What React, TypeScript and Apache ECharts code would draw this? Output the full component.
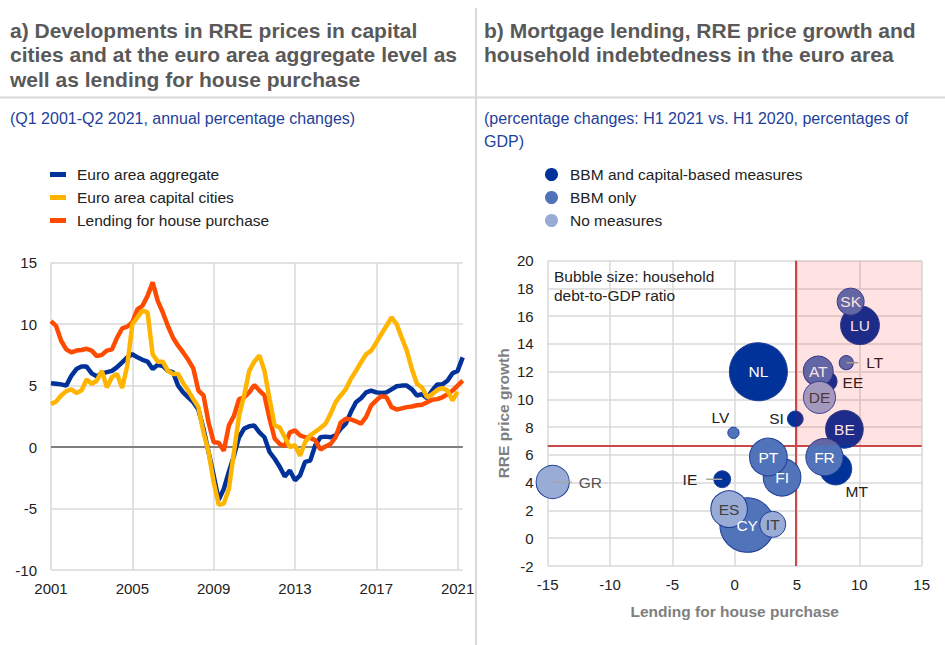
import React, { useEffect, useRef } from "react";
import * as echarts from "echarts";

// ---------- Panel a) data ----------
const quarterLabels: string[] = [];
for (let y = 2001; y <= 2021; y++) {
  for (let q = 1; q <= 4; q++) {
    if (y === 2021 && q > 2) continue;
    quarterLabels.push(`${y} Q${q}`);
  }
}

const euroAreaAggregate = [
  5.2, 5.15, 5.1, 5.0, 5.8, 6.35, 6.55, 6.55, 6.0, 5.75,
  6.0, 6.1, 6.2, 6.5, 6.9, 7.3, 7.55, 7.3, 7.1, 6.95,
  6.35, 6.7, 6.6, 6.2, 6.1, 5.0, 4.45, 4.05, 3.65, 3.05,
  1.5, -0.4, -2.3, -4.3, -3.4, -2.0, -0.7, 0.8, 1.5, 1.7,
  1.75, 1.2, 0.8, -0.4, -0.95, -1.6, -2.4, -1.9, -2.7, -2.3,
  -1.2, -1.1, 0.15, 0.8, 0.85, 0.8, 0.95, 1.5, 1.9, 2.85,
  3.65, 3.97, 4.45, 4.6, 4.45, 4.4, 4.45, 4.7, 4.95, 5.0,
  5.0, 4.7, 4.2, 4.3, 3.97, 4.6, 5.1, 5.1, 5.4, 6.0,
  6.2, 7.3,
];

const euroAreaCapitalCities: (number | null)[] = [
  3.5, 3.7, 4.2, 4.55, 4.7, 4.4, 4.6, 5.5, 5.15, 5.4,
  6.2, 4.85, 5.7, 5.95, 4.8, 6.6, 10.0, 10.55, 11.1, 10.95,
  7.55, 6.95, 6.95, 6.2, 5.95, 5.95, 5.2, 4.6, 3.9, 3.25,
  1.2, -0.4, -2.85, -4.7, -4.6, -3.4, -0.4, 2.55, 4.2, 6.2,
  6.95, 7.45, 6.2, 3.9, 1.75, 1.6, 0.8, 0.0, 0.15, -0.7,
  0.4, 0.95, 1.25, 1.55, 1.9, 2.7, 3.65, 4.2, 4.7, 5.55,
  6.2, 6.9, 7.55, 7.85, 8.5, 9.2, 9.85, 10.55, 10.0, 8.9,
  7.85, 6.35, 5.15, 4.85, 4.05, 4.3, 4.65, 4.8, 4.6, 3.8,
  4.5, null,
];

const lendingHousePurchase = [
  10.25, 9.85, 8.65, 7.95, 7.7, 7.85, 7.9, 8.0, 7.85, 7.4,
  7.5, 7.85, 7.95, 8.9, 9.65, 9.8, 10.15, 11.2, 11.5, 12.3,
  13.4, 11.9, 10.95, 9.85, 8.9, 8.25, 7.7, 7.1, 6.4, 4.6,
  4.2, 2.0, 0.4, 0.35, -0.3, 1.75, 2.55, 3.9, 4.05, 4.45,
  5.05, 4.6, 4.2, 2.3, 0.7, 0.25, 0.1, 1.2, 1.35, 0.95,
  0.8, 0.75, 0.55, -0.2, 0.05, 0.25, 0.8, 2.0, 2.3, 2.25,
  2.1, 1.9, 2.45, 3.4, 3.8, 4.15, 4.05, 3.25, 3.05, 3.15,
  3.25, 3.3, 3.4, 3.45, 3.65, 3.85, 3.9, 4.05, 4.3, 4.6,
  5.0, 5.4,
];

const lineNames = ["Euro area aggregate", "Euro area capital cities", "Lending for house purchase"];

// ---------- Panel b) data ----------
const countries = ["NL", "LU", "EE", "SI", "BE", "MT", "IE", "FI", "PT", "SK", "AT", "LT", "FR", "CY", "LV", "GR", "ES", "IT", "DE"];
const lendingGrowth = [1.9, 10.05, 7.4, 4.86, 8.8, 8.1, -1.0, 3.8, 2.7, 9.3, 6.7, 8.95, 7.2, 1.0, -0.1, -14.6, -0.45, 3.05, 6.8];
const rrePriceGrowth = [12.0, 15.35, 11.3, 8.6, 7.85, 5.0, 4.25, 4.4, 5.85, 17.05, 12.05, 12.65, 5.85, 0.95, 7.6, 4.05, 2.1, 1.0, 10.15];
const householdDebtToGdp = [103, 69, 36, 28, 67, 57, 30, 67, 67, 48, 53, 25, 66, 97, 20, 59, 65, 46, 57];
const measureGroup = [0, 0, 0, 0, 0, 0, 0, 1, 1, 1, 1, 1, 1, 1, 1, 2, 2, 2, 2];
const measureNames = ["BBM and capital-based measures", "BBM only", "No measures"];
const thresholdLending = 4.9;
const thresholdPrice = 6.7;
const lendingAxis = { min: -15, max: 15, step: 5 };
const priceAxis = { min: -2, max: 20, step: 2 };

// ---------- styles ----------
const FONT = '"Liberation Sans", Arial, sans-serif';
const lineColors = ["#003299", "#ffb400", "#ff4b00"];
const bubbleColors = ["#003299", "#5073b9", "#98acd6"];
const bubbleScale = 0.563;
const gridLine = { color: "#d9d9d9", width: 1.5 };

const leaderRight = (len: number, gap: number, color: string) => ({
  position: ["50%", "50%"],
  align: "left",
  verticalAlign: "middle",
  formatter: (p: any) => `{ln| }{t|${p.name}}`,
  rich: {
    ln: { width: len, height: 1.5, backgroundColor: "#a6a6a6", verticalAlign: "middle" },
    t: { fontSize: 15.5, color, padding: [0, 0, 0, gap], verticalAlign: "middle", fontFamily: FONT },
  },
});
const leaderLeft = (len: number, gap: number, color: string) => ({
  position: ["50%", "50%"],
  align: "right",
  verticalAlign: "middle",
  formatter: (p: any) => `{t|${p.name}}{ln| }`,
  rich: {
    ln: { width: len, height: 1.5, backgroundColor: "#a6a6a6", verticalAlign: "middle" },
    t: { fontSize: 15.5, color, padding: [0, gap, 0, 0], verticalAlign: "middle", fontFamily: FONT },
  },
});

const labelSpecial: Record<string, any> = {
  LV: { position: "top", distance: 1.5, offset: [-13, 0], color: "#222" },
  SI: { position: "left", distance: 3, color: "#222" },
  EE: { position: "right", distance: 5, offset: [0, 1], color: "#222" },
  MT: { position: "bottom", distance: 0, offset: [21, -2], color: "#222" },
  LT: leaderRight(12, 8, "#222"),
  GR: leaderRight(19, 7, "#555"),
  IE: leaderLeft(16, 9, "#222"),
};

function bubbleItems(group: number) {
  const items: any[] = [];
  countries.forEach((c, i) => {
    if (measureGroup[i] !== group) return;
    const base = {
      show: true,
      position: "inside",
      formatter: "{b}",
      fontSize: 15.5,
      fontFamily: FONT,
      color: group === 2 ? "#404040" : "#ffffff",
    };
    items.push({
      name: c,
      value: [lendingGrowth[i], rrePriceGrowth[i], householdDebtToGdp[i]],
      label: { ...base, ...(labelSpecial[c] || {}) },
    });
  });
  return items;
}

export default function App() {
  const ref = useRef<HTMLDivElement>(null);
  useEffect(() => {
    if (!ref.current) return;
    const chart = echarts.init(ref.current, null, { renderer: "svg" });

    const lineData = [euroAreaAggregate, euroAreaCapitalCities, lendingHousePurchase];
    const lineOrder = [0, 2, 1];
    const lineSeries = lineOrder.map((k) => ({
      type: "line",
      name: lineNames[k],
      xAxisIndex: 0,
      yAxisIndex: 0,
      data: lineData[k],
      symbol: "none",
      showSymbol: false,
      connectNulls: false,
      lineStyle: { width: 4.5, color: lineColors[k] },
      itemStyle: { color: lineColors[k] },
      emphasis: { disabled: true },
      silent: true,
      ...(k === 0
        ? {
            markLine: {
              silent: true,
              z: 1,
              symbol: ["none", "none"],
              label: { show: false },
              lineStyle: { color: "#7f7f7f", width: 2, type: "solid" },
              data: [{ yAxis: 0 }],
            },
          }
        : {}),
    }));

    const scatterSeries = [0, 1, 2].map((g) => ({
      type: "scatter",
      name: measureNames[g],
      xAxisIndex: 1,
      yAxisIndex: 1,
      data: bubbleItems(g),
      symbolSize: (v: number[]) => v[2] * bubbleScale,
      itemStyle: { color: bubbleColors[g], borderColor: "#213f98", borderWidth: 1, opacity: 1 },
      emphasis: { disabled: true },
      silent: true,
      ...(g === 2
        ? {
            markLine: {
              silent: true,
              z: 1,
              symbol: ["none", "none"],
              label: { show: false },
              lineStyle: { color: "#c94a4a", width: 2, type: "solid" },
              data: [{ xAxis: thresholdLending }, { yAxis: thresholdPrice }],
            },
            markArea: {
              silent: true,
              z: 10,
              itemStyle: { color: "rgba(255,0,0,0.11)" },
              label: { show: false },
              data: [[
                { coord: [thresholdLending, thresholdPrice] },
                { coord: [lendingAxis.max, priceAxis.max] },
              ]],
            },
          }
        : {}),
    }));

    const axisLabelStyle = { fontSize: 15, color: "#222", fontFamily: FONT };

    const option: any = {
      animation: false,
      textStyle: { fontFamily: FONT },
      grid: [
        { left: 51, right: 482.3, top: 262.7, bottom: 75 },
        { left: 547.7, right: 23.3, top: 260.7, bottom: 79 },
      ],
      legend: [
        {
          data: lineNames,
          orient: "vertical",
          left: 45,
          top: 161.5,
          itemGap: 7,
          icon: "rect",
          itemWidth: 16,
          itemHeight: 5,
          selectedMode: false,
          textStyle: { fontSize: 15.5, color: "#222", padding: [0, 0, 0, 6], fontFamily: FONT },
        },
        {
          data: measureNames,
          orient: "vertical",
          left: 540,
          top: 161.5,
          itemGap: 7,
          icon: "circle",
          itemWidth: 13,
          itemHeight: 13,
          selectedMode: false,
          itemStyle: { borderWidth: 0 },
          textStyle: { fontSize: 15.5, color: "#222", padding: [0, 0, 0, 7], fontFamily: FONT },
        },
      ],
      xAxis: [
        {
          type: "category",
          gridIndex: 0,
          data: quarterLabels,
          boundaryGap: false,
          axisLine: { show: false },
          axisTick: { show: false },
          axisLabel: {
            ...axisLabelStyle,
            margin: 11,
            interval: (i: number) => i % 16 === 0,
            formatter: (v: string) => v.slice(0, 4),
          },
          splitLine: { show: true, interval: (i: number) => i % 16 === 0, lineStyle: gridLine },
        },
        {
          type: "value",
          gridIndex: 1,
          min: lendingAxis.min,
          max: lendingAxis.max,
          interval: lendingAxis.step,
          name: "Lending for house purchase",
          nameLocation: "middle",
          nameGap: 37,
          nameTextStyle: { fontWeight: "bold", fontSize: 15.5, color: "#7f7f7f", fontFamily: FONT },
          axisLine: { show: false },
          axisTick: { show: false },
          axisLabel: { ...axisLabelStyle, margin: 11 },
          splitLine: { show: true, lineStyle: gridLine },
        },
      ],
      yAxis: [
        {
          type: "value",
          gridIndex: 0,
          min: -10,
          max: 15,
          interval: 5,
          axisLine: { show: false },
          axisTick: { show: false },
          axisLabel: { ...axisLabelStyle, margin: 14 },
          splitLine: { show: true, lineStyle: gridLine },
        },
        {
          type: "value",
          gridIndex: 1,
          min: priceAxis.min,
          max: priceAxis.max,
          interval: priceAxis.step,
          name: "RRE price growth",
          nameLocation: "middle",
          nameRotate: 90,
          nameGap: 36,
          nameTextStyle: { fontWeight: "bold", fontSize: 15.5, color: "#7f7f7f", fontFamily: FONT },
          axisLine: { show: false },
          axisTick: { show: false },
          axisLabel: { ...axisLabelStyle, margin: 14 },
          splitLine: { show: true, lineStyle: gridLine },
        },
      ],
      series: [...lineSeries, ...scatterSeries],
      graphic: [
        {
          type: "line",
          shape: { x1: 0, y1: 97.5, x2: 945, y2: 97.5 },
          style: { stroke: "#d9d9d9", lineWidth: 2 },
          silent: true,
        },
        {
          type: "line",
          shape: { x1: 476, y1: 8, x2: 476, y2: 645 },
          style: { stroke: "#d9d9d9", lineWidth: 2 },
          silent: true,
        },
        {
          type: "text",
          x: 10,
          y: 17.75,
          silent: true,
          style: {
            text: "a) Developments in RRE prices in capital\ncities and at the euro area aggregate level as\nwell as lending for house purchase",
            fontSize: 21,
            fontWeight: "bold",
            fontFamily: FONT,
            fill: "#595959",
            lineHeight: 24.5,
            verticalAlign: "top",
          },
        },
        {
          type: "text",
          x: 484,
          y: 17.75,
          silent: true,
          style: {
            text: "b) Mortgage lending, RRE price growth and\nhousehold indebtedness in the euro area",
            fontSize: 21,
            fontWeight: "bold",
            fontFamily: FONT,
            fill: "#595959",
            lineHeight: 24.5,
            verticalAlign: "top",
          },
        },
        {
          type: "text",
          x: 10,
          y: 107,
          silent: true,
          style: {
            text: "(Q1 2001-Q2 2021, annual percentage changes)",
            fontSize: 16,
            fontFamily: FONT,
            fill: "#1e3f9b",
            lineHeight: 23,
            verticalAlign: "top",
          },
        },
        {
          type: "text",
          x: 484,
          y: 107,
          silent: true,
          style: {
            text: "(percentage changes: H1 2021 vs. H1 2020, percentages of\nGDP)",
            fontSize: 16,
            fontFamily: FONT,
            fill: "#1e3f9b",
            lineHeight: 23,
            verticalAlign: "top",
          },
        },
        {
          type: "text",
          x: 554,
          y: 267.5,
          silent: true,
          z: 20,
          style: {
            text: "Bubble size: household\ndebt-to-GDP ratio",
            fontSize: 15.5,
            fontFamily: FONT,
            fill: "#222",
            lineHeight: 18.5,
            verticalAlign: "top",
          },
        },
      ],
    };

    chart.setOption(option);
    return () => chart.dispose();
  }, []);

  return (
    <div
      ref={ref}
      style={{ position: "fixed", left: 0, top: 0, width: 945, height: 645, background: "#ffffff" }}
    />
  );
}
